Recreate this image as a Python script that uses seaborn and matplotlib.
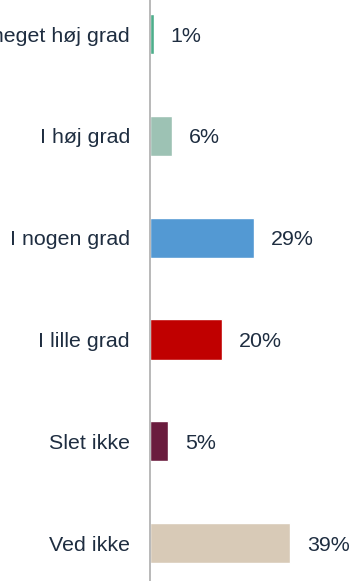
import matplotlib
matplotlib.use("Agg")
import matplotlib.pyplot as plt
import seaborn as sns
import pandas as pd

categories = ["I meget høj grad", "I høj grad", "I nogen grad", "I lille grad", "Slet ikke", "Ved ikke"]
values = [1, 6, 29, 20, 5, 39]
colors = ["#4DAE8B", "#9DC2B4", "#5399D3", "#C00000", "#6A1C3E", "#D8CAB7"]

text_color = "#1E2D40"

sns.set_theme(style="white")
plt.rcParams["font.family"] = ["Liberation Sans", "DejaVu Sans"]

df = pd.DataFrame({"kategori": categories, "andel": values})

fig = plt.figure(figsize=(3.52, 5.81), dpi=100)
ax = fig.add_axes([150 / 352, 0, 202 / 352, 1])

sns.barplot(data=df, y="kategori", x="andel", hue="kategori", palette=colors,
            order=categories, hue_order=categories, orient="h", width=0.395,
            legend=False, ax=ax, saturation=1)

for i, v in enumerate(values):
    ax.annotate(f"{v}%", xy=(v, i), xytext=(17, 0), textcoords="offset pixels",
                va="center_baseline", ha="left", fontsize=15.4, color=text_color)

ax.set_xlim(0, 56.3)
ax.set_ylim(5.373, -0.334)
ax.set_xlabel("")
ax.set_ylabel("")
ax.set_xticks([])
ax.tick_params(axis="y", length=0, pad=14.4, labelsize=15.4, labelcolor=text_color)
for lbl in ax.get_yticklabels():
    lbl.set_verticalalignment("center_baseline")
for side in ["top", "right", "bottom"]:
    ax.spines[side].set_visible(False)
ax.spines["left"].set_color("#A6A6A6")
ax.spines["left"].set_linewidth(1.1)

fig.savefig("out.png", dpi=100)
